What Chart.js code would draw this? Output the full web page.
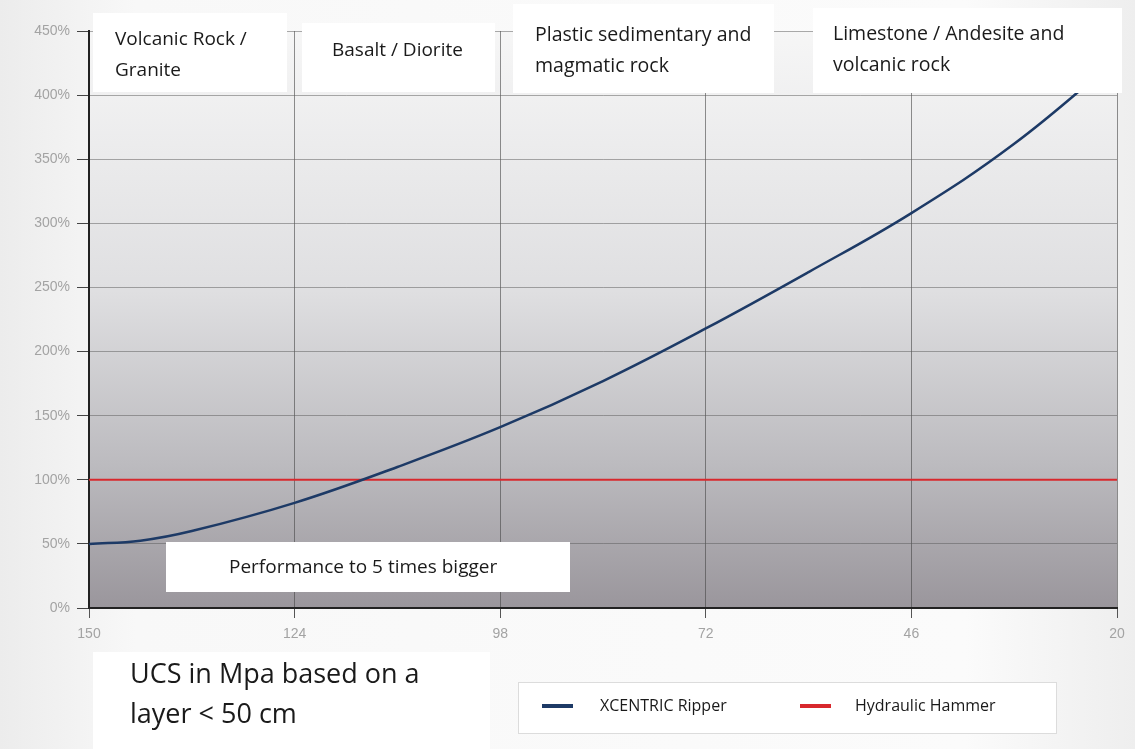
<!DOCTYPE html>
<html>
<head>
<meta charset="utf-8">
<script src="https://cdn.jsdelivr.net/npm/chart.js@4/dist/chart.umd.min.js"></script>
<style>
    html, body { margin: 0; padding: 0; }
    body {
        width: 1135px;
        height: 749px;
        background: linear-gradient(to right, #ececec 0%, #f8f8f8 12%, #fbfbfb 85%, #eeeeee 100%);
    }
    #wrap { position: relative; width: 1135px; height: 749px; }
</style>
</head>
<body>
<div id="wrap"><canvas id="chart-ucs"></canvas></div>
<script>
// UCS in Mpa (x axis runs from 150 down to 20)
const ucsTicks = [150, 124, 98, 72, 46, 20]
const ucsValues = [150, 143.5, 137, 124, 111, 98, 85, 72, 59, 46, 33, 20]
const ripperPerf = [50, 52.5, 60, 82, 110, 141, 177, 218, 262, 308, 362, 428]
const hammerPerf = [100, 100, 100, 100, 100, 100, 100, 100, 100, 100, 100, 100]

const seriesNames = ['XCENTRIC Ripper', 'Hydraulic Hammer']
const regionLabels = [
    ['Volcanic Rock /', 'Granite'],
    ['Basalt / Diorite'],
    ['Plastic sedimentary and', 'magmatic rock'],
    ['Limestone / Andesite and', 'volcanic rock']
]
const noteLabel = ['Performance to 5 times bigger']
const axisNote = ['UCS in Mpa based on a', 'layer < 50 cm']

const toPoints = (xs, ys) => xs.map((x, i) => ({ x: x, y: ys[i] }))

const textFont = '"Open Sans", "Noto Sans", sans-serif'

const plotBackground = {
    id: 'plotBackground',
    beforeDraw(chart) {
        const { ctx, chartArea: a } = chart
        const g = ctx.createLinearGradient(0, a.top, 0, a.bottom)
        g.addColorStop(0, '#f6f6f6')
        g.addColorStop(0.45, '#dfdfe1')
        g.addColorStop(0.75, '#bcbbbf')
        g.addColorStop(1, '#9a969c')
        ctx.save()
        ctx.fillStyle = g
        ctx.fillRect(a.left, a.top, a.right - a.left, a.bottom - a.top)
        ctx.restore()
    }
}

const drawBox = (ctx, x, y, w, h, lines, tx, ty, lh, size) => {
    ctx.fillStyle = '#ffffff'
    ctx.fillRect(x, y, w, h)
    ctx.fillStyle = '#1a1a1a'
    ctx.font = size + 'px ' + textFont
    ctx.textBaseline = 'middle'
    ctx.textAlign = 'left'
    lines.forEach((l, i) => ctx.fillText(l, tx, ty + i * lh))
}

const annotations = {
    id: 'annotations',
    afterDraw(chart) {
        const ctx = chart.ctx
        ctx.save()

        // rock type boxes along the top
        drawBox(ctx, 93, 13, 194, 79, regionLabels[0], 115, 40, 31, 19)
        drawBox(ctx, 302, 23, 193, 69, regionLabels[1], 332, 51, 31, 19)
        drawBox(ctx, 513, 4, 261, 89, regionLabels[2], 535, 35, 31, 19.5)
        drawBox(ctx, 813, 8, 309, 85, regionLabels[3], 833, 34, 31, 19.5)

        // note inside the plot
        drawBox(ctx, 166, 542, 404, 50, noteLabel, 229, 568, 0, 19)

        // axis title
        drawBox(ctx, 93, 652, 397, 97, axisNote, 130, 675, 40, 27)

        // legend
        ctx.fillStyle = '#ffffff'
        ctx.fillRect(518, 682, 538, 51)
        ctx.strokeStyle = '#dcdcdc'
        ctx.lineWidth = 1
        ctx.strokeRect(518.5, 682.5, 538, 51)
        const items = [
            { lx: 542, tx: 600 },
            { lx: 800, tx: 855 }
        ]
        chart.data.datasets.forEach((ds, i) => {
            const it = items[i]
            ctx.strokeStyle = ds.borderColor
            ctx.lineWidth = 4
            ctx.beginPath()
            ctx.moveTo(it.lx, 706)
            ctx.lineTo(it.lx + 31, 706)
            ctx.stroke()
            ctx.fillStyle = '#1a1a1a'
            ctx.font = '16px ' + textFont
            ctx.textBaseline = 'middle'
            ctx.fillText(ds.label, it.tx, 706)
        })

        ctx.restore()
    }
}

const chartUcs = document.getElementById('chart-ucs')

new Chart(chartUcs.getContext('2d'), {

    type: 'line',
    data: {
        datasets: [{
            label: seriesNames[0],
            data: toPoints(ucsValues, ripperPerf),
            borderColor: '#1d3a66',
            borderWidth: 2.5,
            pointRadius: 0,
            tension: 0.4
        }, {
            label: seriesNames[1],
            data: toPoints(ucsValues, hammerPerf),
            borderColor: '#d8282d',
            borderWidth: 2,
            pointRadius: 0
        }]
    },
    options: {
        responsive: true,
        maintainAspectRatio: false,
        animation: false,
        layout: {
            padding: { top: 31, right: 18, left: 0, bottom: 0 }
        },
        plugins: {
            legend: { display: false },
            tooltip: { enabled: false }
        },
        scales: {
            x: {
                type: 'linear',
                reverse: true,
                min: 20,
                max: 150,
                afterBuildTicks: (scale) => {
                    scale.ticks = ucsTicks.map(v => ({ value: v }))
                },
                afterFit: (scale) => { scale.height = 141 },
                grid: {
                    color: 'rgba(70, 70, 70, 0.6)',
                    lineWidth: 1,
                    tickLength: 10,
                    tickColor: '#555'
                },
                border: { color: '#222', width: 2 },
                ticks: {
                    color: '#a3a3a3',
                    padding: 8,
                    font: { family: '"Liberation Sans", Arial, sans-serif', size: 14 }
                }
            },
            y: {
                min: 0,
                max: 450,
                afterFit: (scale) => { scale.width = 89 },
                grid: {
                    color: 'rgba(90, 90, 90, 0.5)',
                    lineWidth: 1,
                    tickLength: 12,
                    tickColor: '#444'
                },
                border: { color: '#222', width: 2 },
                ticks: {
                    stepSize: 50,
                    color: '#a3a3a3',
                    padding: 7,
                    font: { family: '"Liberation Sans", Arial, sans-serif', size: 14 },
                    callback: (v) => v + '%'
                }
            }
        }
    },
    plugins: [plotBackground, annotations]

})
</script>
</body>
</html>
